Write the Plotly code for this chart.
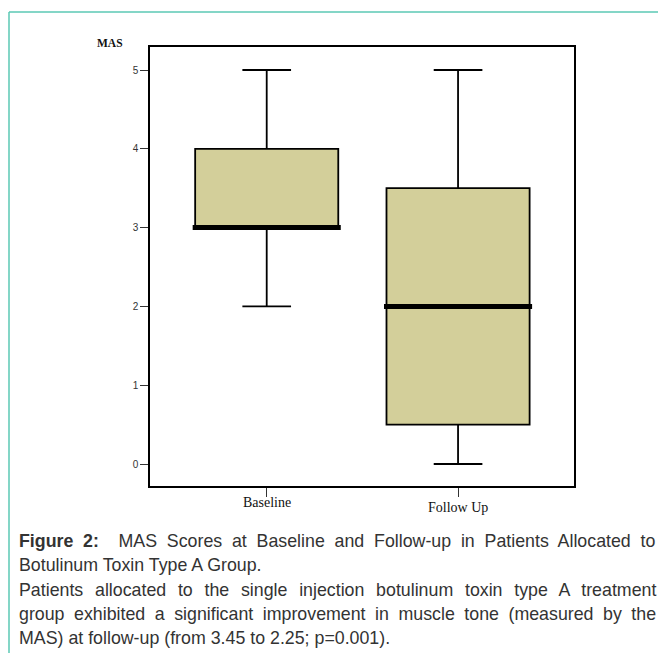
import plotly.graph_objects as go

# ---- data ----
groups = ["Baseline", "Follow Up"]
lower_whisker = [2, 0]
q1_vals = [3, 0.5]
median_vals = [3, 2]
q3_vals = [4, 3.5]
upper_whisker = [5, 5]
y_ticks = [0, 1, 2, 3, 4, 5]
y_label = "MAS"
caption_lines = [
    "<b>Figure 2:</b>  MAS Scores at Baseline and Follow-up in Patients Allocated to",
    "Botulinum Toxin Type A Group.",
    "Patients allocated to the single injection botulinum toxin type A treatment",
    "group exhibited a significant improvement in muscle tone (measured by the",
    "MAS) at follow-up (from 3.45 to 2.25; p=0.001).",
]
# extra word spacing (px) used to imitate the justified paragraph
caption_word_spacing = [4.85, 0, 6.8, 4.6, 0]

W, H = 658, 653
L, T, R, B = 150, 47, 574, 486   # plot area in window pixels
PW, PH = R - L, B - T


def px(xp):
    return (xp - L) / PW


def py(yp):
    return (B - yp) / PH


BOX_W = 0.748
fig = go.Figure()
for i, g in enumerate(groups):
    fig.add_trace(go.Box(
        x=[i], q1=[q1_vals[i]], median=[median_vals[i]], q3=[q3_vals[i]],
        lowerfence=[lower_whisker[i]], upperfence=[upper_whisker[i]],
        width=BOX_W, whiskerwidth=0.34,
        fillcolor="#D3CF9A", line=dict(color="black", width=1.8),
        boxpoints=False, showlegend=False, hoverinfo="skip",
    ))
    fig.add_trace(go.Scatter(
        x=[i - 0.387, i + 0.387], y=[median_vals[i], median_vals[i]],
        mode="lines", line=dict(color="black", width=5),
        showlegend=False, hoverinfo="skip",
    ))

fig.update_xaxes(
    range=[-0.61, 1.606], tickvals=list(range(len(groups))), ticktext=["", ""],
    ticks="outside", ticklen=9, tickwidth=1.3, tickcolor="#333",
    showline=True, linecolor="black", linewidth=1.6, mirror=True,
    showgrid=False, zeroline=False,
)
fig.update_yaxes(
    range=[-0.279, 5.292], tickvals=y_ticks,
    ticks="outside", ticklen=8, tickwidth=1.3, tickcolor="#333",
    tickfont=dict(family="Liberation Sans, Arial, sans-serif", size=10, color="#333"),
    showline=True, linecolor="black", linewidth=1.6, mirror=True,
    showgrid=False, zeroline=False,
)

annotations = []
label_y = [502, 507]
for i, g in enumerate(groups):
    annotations.append(dict(
        x=i, xref="x", y=py(label_y[i]), yref="paper", text=g, showarrow=False,
        xanchor="center", yanchor="middle",
        font=dict(family="Liberation Serif, Times New Roman, serif", size=14, color="#111"),
    ))
annotations.append(dict(
    x=px(110), xref="paper", y=py(43), yref="paper", text="<b>" + y_label + "</b>",
    showarrow=False, xanchor="center", yanchor="middle",
    font=dict(family="Liberation Serif, Times New Roman, serif", size=11.5, color="#111"),
))
cap_y = [541, 565, 590, 614, 638]
for line, yy, ws in zip(caption_lines, cap_y, caption_word_spacing):
    txt = f'<span style="word-spacing:{ws}px">{line}</span>' if ws else line
    annotations.append(dict(
        x=px(17), xref="paper", y=py(yy), yref="paper", text=txt, showarrow=False,
        xanchor="left", yanchor="middle",
        font=dict(family="Liberation Sans, Arial, sans-serif", size=17.8, color="#333"),
    ))

shapes = [
    dict(type="line", xref="paper", yref="paper", x0=px(9), x1=px(658), y0=py(12), y1=py(12),
         line=dict(color="#5BC9B5", width=1.5)),
    dict(type="line", xref="paper", yref="paper", x0=px(9), x1=px(9), y0=py(12), y1=py(653),
         line=dict(color="#5BC9B5", width=1.5)),
]

fig.update_layout(
    width=W, height=H,
    margin=dict(l=L, r=W - R, t=T, b=H - B),
    paper_bgcolor="white", plot_bgcolor="white",
    annotations=annotations, shapes=shapes,
)

fig.write_html(
    "out.html",
    config={"displayModeBar": False},
    post_script="document.body.style.margin='0';document.body.style.overflow='hidden';",
)
